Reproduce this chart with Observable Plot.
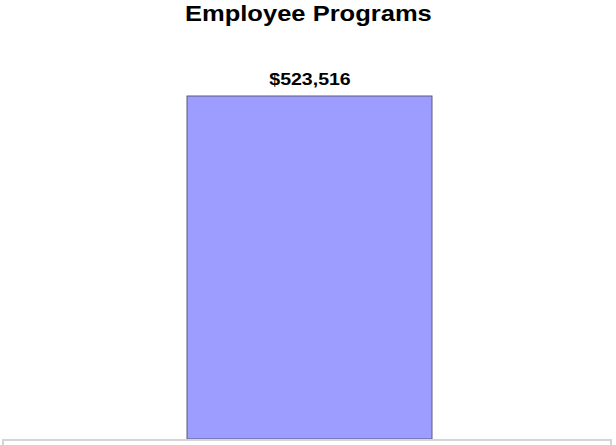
<!DOCTYPE html>
<html>
<head>
<meta charset="utf-8">
<script src="https://cdn.jsdelivr.net/npm/d3@7"></script>
<script src="https://cdn.jsdelivr.net/npm/@observablehq/plot@0.6"></script>
<style>
  html, body { margin: 0; padding: 0; background: #fff; }
  #wrap { position: relative; width: 616px; height: 445px; overflow: hidden; font-family: "Liberation Sans", Arial, sans-serif; }
  #title { position: absolute; left: 0; top: 0; width: 616px; text-align: center; font-weight: bold; font-size: 22px; line-height: 22px; padding-top: 3px; color: #000; }
  #title span { display: inline-block; transform: scaleX(1.16); transform-origin: center; }
  #chart { position: absolute; left: 0; top: 45px; }
  #box { position: absolute; left: 2px; top: 439px; width: 610px; height: 20px; border: 2px solid #d4d4d4; box-sizing: border-box; }
</style>
</head>
<body>
<div id="wrap">
  <div id="title"><span>Employee Programs</span></div>
  <div id="chart"></div>
  <div id="box"></div>
</div>
<script>
const categories = ["Employee Programs"];
const values = [523516];
const labels = ["$523,516"];

const data = categories.map((c, i) => ({category: c, value: values[i], label: labels[i]}));

const plot = Plot.plot({
  width: 616,
  height: 400,
  marginLeft: 187,
  marginRight: 184,
  marginTop: 51,
  marginBottom: 6,
  x: {domain: categories, padding: 0, axis: null},
  y: {domain: [0, 523516], axis: null},
  style: {background: "transparent", fontFamily: "Liberation Sans, Arial, sans-serif"},
  marks: [
    Plot.barY(data, {x: "category", y: "value", fill: "#9d9dff", stroke: "#5a5a7a", strokeWidth: 1}),
    Plot.text(data, {x: "category", y: "value", text: "label", dy: -17, fontSize: 17, fontWeight: "bold", fill: "#000"})
  ]
});
document.getElementById("chart").appendChild(plot);
document.querySelectorAll("#chart svg text").forEach(t => {
  const bb = t.getBBox();
  const cx = bb.x + bb.width / 2;
  t.setAttribute("transform", (t.getAttribute("transform") || "") + ` translate(${cx},0) scale(1.15,1) translate(${-cx},0)`);
});
</script>
</body>
</html>
